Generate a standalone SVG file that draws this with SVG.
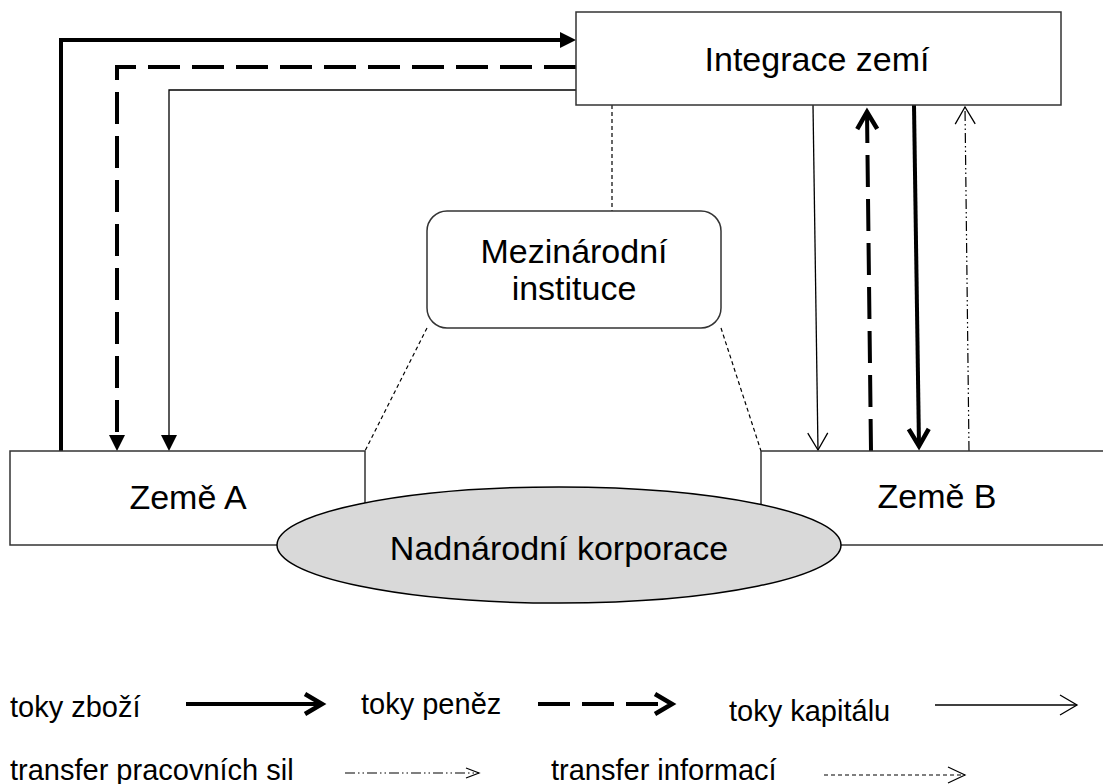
<svg xmlns="http://www.w3.org/2000/svg" width="1103" height="784" viewBox="0 0 1103 784">
<style>
.box{fill:#fff;stroke:#333;stroke-width:1.5}
.ell{fill:#d9d9d9;stroke:#000;stroke-width:1.5}
.t{font-family:"Liberation Sans",Arial,sans-serif;fill:#000}
.big{font-size:34px;text-anchor:middle}
.leg{font-size:29px}
.goods{fill:none;stroke:#000;stroke-width:4;stroke-linejoin:miter}
.money{fill:none;stroke:#000;stroke-width:4;stroke-dasharray:32 12;stroke-linejoin:miter}
.capital{fill:none;stroke:#000;stroke-width:1.3;stroke-linejoin:miter}
.labour{fill:none;stroke:#000;stroke-width:1.2;stroke-dasharray:10 3 1.5 3 1.5 3}
.info{fill:none;stroke:#000;stroke-width:1.2;stroke-dasharray:4 3}
</style>
<defs>
<marker id="tri" markerUnits="userSpaceOnUse" markerWidth="16" markerHeight="16" viewBox="0 0 16 16" refX="10" refY="8" orient="auto"><path d="M0,0 L16,8 L0,16 z" fill="#000"/></marker>
<marker id="chev" markerUnits="userSpaceOnUse" markerWidth="28" markerHeight="28" viewBox="0 0 28 28" refX="21" refY="14" orient="auto"><path d="M4,4 L21,14 L4,24" fill="none" stroke="#000" stroke-width="4.5" stroke-linejoin="miter"/></marker>
<marker id="vee" markerUnits="userSpaceOnUse" markerWidth="20" markerHeight="22" viewBox="0 0 20 22" refX="18" refY="11" orient="auto"><path d="M1,1 L18,11 L1,21" fill="none" stroke="#000" stroke-width="1.3"/></marker>
<marker id="veeM" markerUnits="userSpaceOnUse" markerWidth="20" markerHeight="18" viewBox="0 0 20 18" refX="18" refY="9" orient="auto"><path d="M1,1 L18,9 L1,17" fill="none" stroke="#000" stroke-width="1.2"/></marker>
<marker id="veeS" markerUnits="userSpaceOnUse" markerWidth="16" markerHeight="14" viewBox="0 0 16 14" refX="14" refY="7" orient="auto"><path d="M1,2 L14,7 L1,12" fill="none" stroke="#000" stroke-width="1.2"/></marker>
</defs>
<rect width="1103" height="784" fill="#fff"/>

<g id="connectors">
<path class="goods" d="M61,451 V40 H570" marker-end="url(#tri)"/>
<path class="money" d="M576,67 H117 V445" marker-end="url(#tri)"/>
<path class="capital" d="M576,90 H169 V445" marker-end="url(#tri)"/>
<path class="capital" d="M813,105 L818,450" marker-end="url(#vee)"/>
<path class="money" d="M871,451 L867,112" marker-end="url(#chev)"/>
<path class="goods" d="M914,105 L919,446" marker-end="url(#chev)"/>
<path class="labour" d="M969,451 L965,107" marker-end="url(#vee)"/>
<path class="info" d="M612,105 V211"/>
<path class="info" d="M427,328 L365,451"/>
<path class="info" d="M721,328 L761,451"/>
</g>

<g id="integrace">
<rect class="box" x="576" y="12" width="485" height="93"/>
<text class="t big" x="817" y="71">Integrace zemí</text>
</g>

<g id="mezinarodni">
<rect class="box" x="427" y="211" width="294" height="117" rx="20" ry="20"/>
<text class="t big" x="574" y="263">Mezinárodní</text>
<text class="t big" x="574" y="300">instituce</text>
</g>

<g id="zeme-a">
<rect class="box" x="10" y="451" width="355" height="94"/>
<text class="t big" x="188" y="509">Země A</text>
</g>

<g id="zeme-b">
<rect class="box" x="761" y="451" width="400" height="94"/>
<text class="t big" x="937" y="508">Země B</text>
</g>

<g id="nadnarodni">
<ellipse class="ell" cx="559" cy="545" rx="282" ry="58"/>
<text class="t big" x="559" y="560">Nadnárodní korporace</text>
</g>

<g id="legend">
<text class="t leg" x="10" y="717">toky zboží</text>
<path class="goods" d="M186,704 H322" marker-end="url(#chev)"/>
<text class="t leg" x="361" y="714">toky peněz</text>
<path class="money" d="M538,704 H672" marker-end="url(#chev)"/>
<text class="t leg" x="729" y="721">toky kapitálu</text>
<path class="capital" d="M935,705 H1077" marker-end="url(#vee)"/>
<text class="t leg" x="10" y="780">transfer pracovních sil</text>
<path class="labour" d="M345,773 H479" marker-end="url(#veeS)"/>
<text class="t leg" x="551" y="780">transfer informací</text>
<path class="info" d="M824,775 H965" marker-end="url(#veeM)"/>
</g>
</svg>
